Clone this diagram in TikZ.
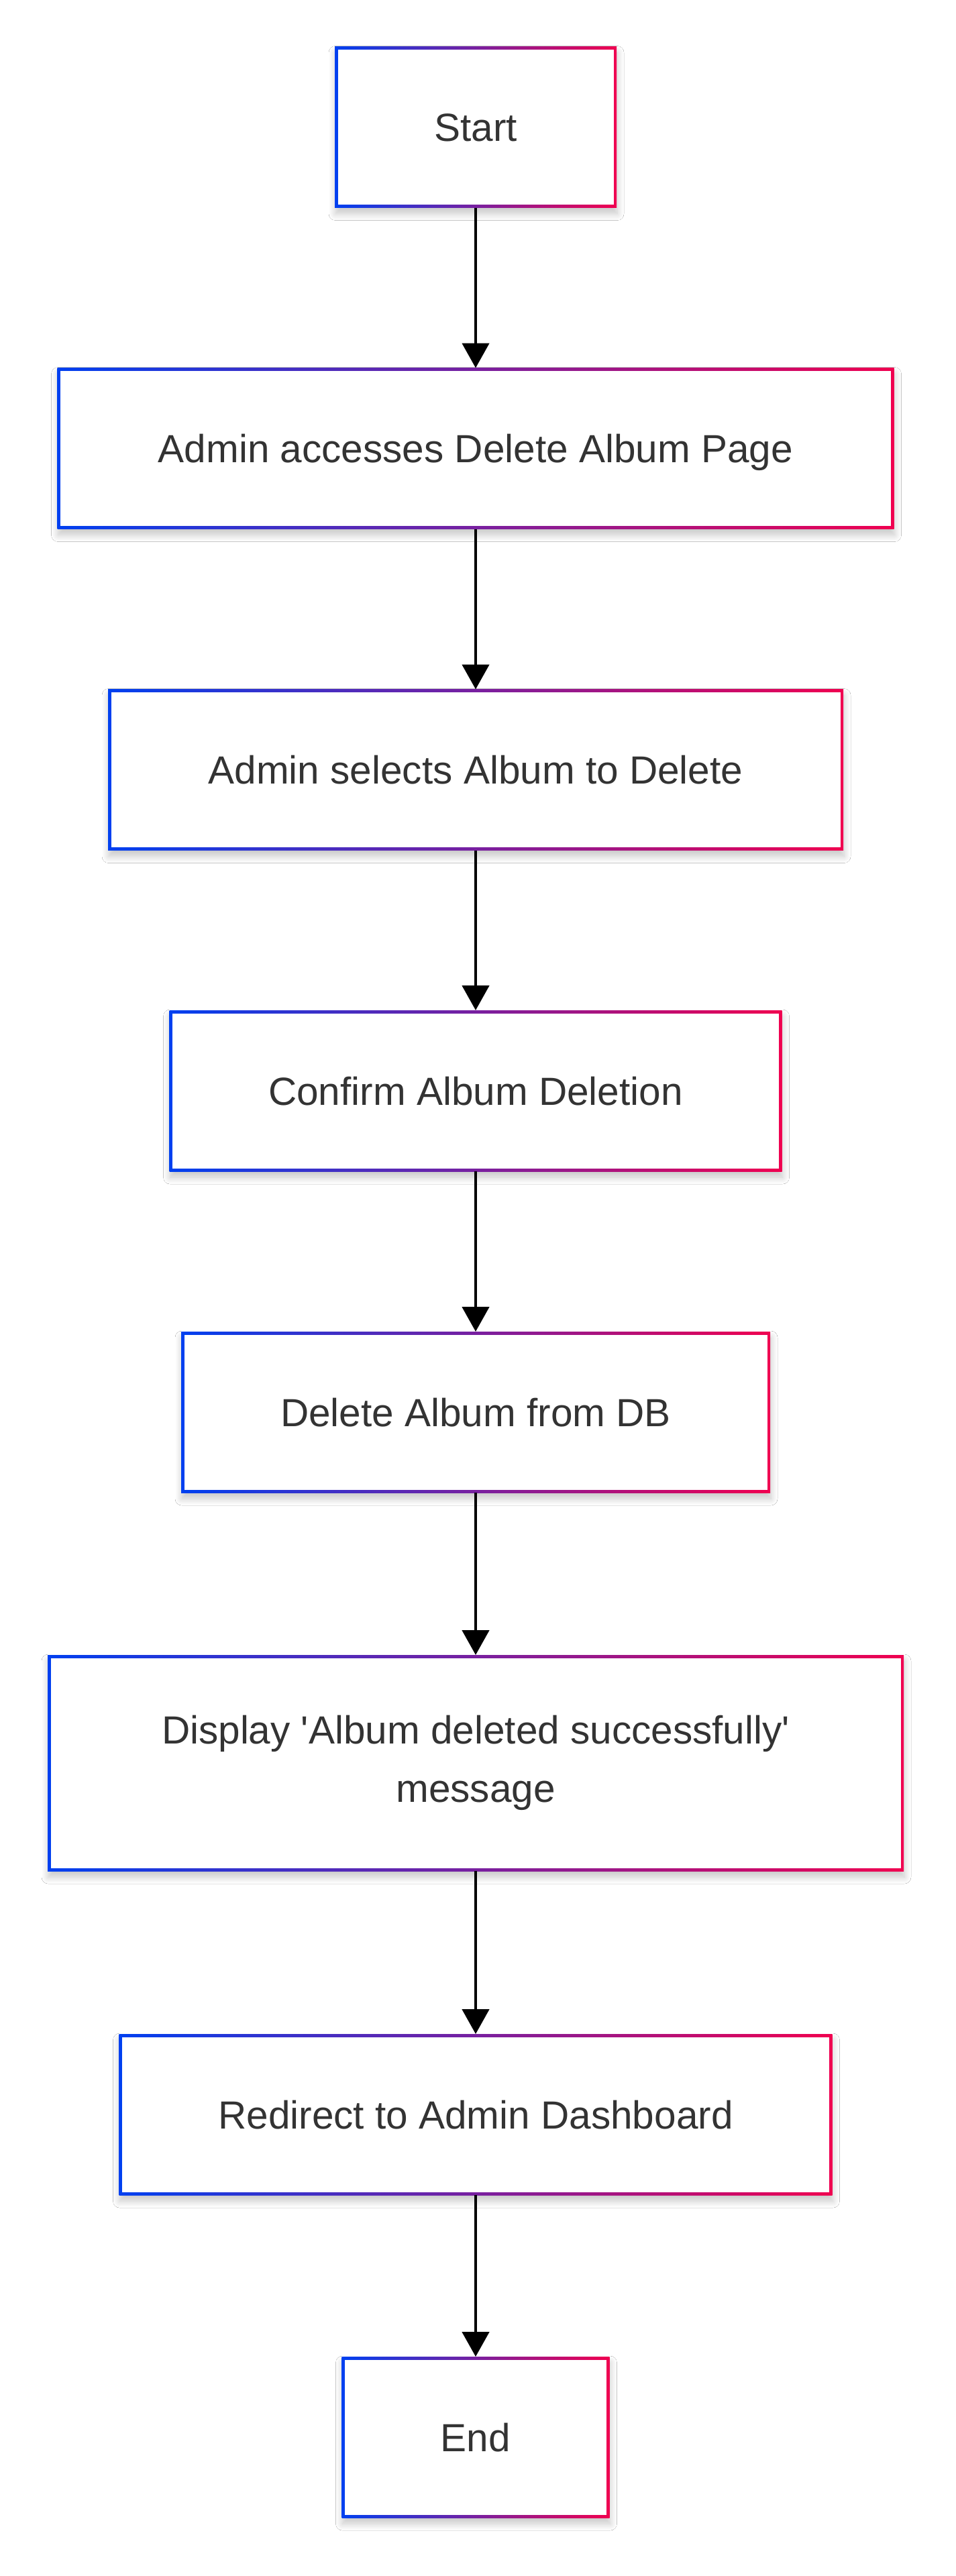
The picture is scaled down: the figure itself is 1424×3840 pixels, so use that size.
\documentclass[tikz,border=0pt]{standalone}
\usepackage{fontspec}
\setmainfont{Liberation Sans}
\usepackage{tikz}
\usetikzlibrary{arrows.meta,calc,shadows.blur}

\definecolor{edgeblue}{HTML}{0040F0}
\definecolor{edgered}{HTML}{F00050}
\definecolor{textgray}{HTML}{333333}

\begin{document}
\begin{tikzpicture}[x=1pt,y=-1pt,>={Triangle[length=37pt,width=40pt]}]
	\tikzstyle{base} = [rectangle, inner sep=0pt, outer sep=0pt, minimum height=240pt, left color=edgeblue, right color=edgered, text=textgray, font=\fontsize{58.5pt}{87pt}\selectfont, blur shadow={shadow xshift=1pt, shadow yshift=-9pt, shadow blur radius=10pt, shadow blur steps=12, shadow opacity=22}, path picture={\fill[white] ($(path picture bounding box.north west)+(4.5pt,-4.5pt)$) rectangle ($(path picture bounding box.south east)+(-4.5pt,4.5pt)$);}]
	\tikzstyle{block} = [base, text height=42pt, text depth=0pt]
	\tikzstyle{tall} = [base, align=center, minimum height=322pt]
	\tikzstyle{flow} = [->, line width=4.8pt, black]

	\fill[white] (0,0) rectangle (1424,3840);
	\useasboundingbox (0,0) rectangle (1424,3840);

	\node [block, minimum width=420pt] (start) at (709, 189.5) {Start};
	\node [block, minimum width=1247pt] (access) at (709, 668.5) {Admin accesses Delete Album Page};
	\node [block, minimum width=1096pt] (select) at (709, 1147.5) {Admin selects Album to Delete};
	\node [block, minimum width=913pt] (confirm) at (709, 1626) {Confirm Album Deletion};
	\node [block, minimum width=878pt] (delete) at (709, 2105) {Delete Album from DB};
	\node [tall, minimum width=1276pt] (display) at (709, 2628) {Display \textquotesingle Album deleted successfully\textquotesingle\\message};
	\node [block, minimum width=1063pt] (redirect) at (709, 3152) {Redirect to Admin Dashboard};
	\node [block, minimum width=399pt] (finish) at (709, 3633) {End};

	\foreach \a/\b in {start/access, access/select, select/confirm, confirm/delete, delete/display, display/redirect, redirect/finish}
		\draw [flow] (\a) -- (\b);

\end{tikzpicture}
\end{document}
